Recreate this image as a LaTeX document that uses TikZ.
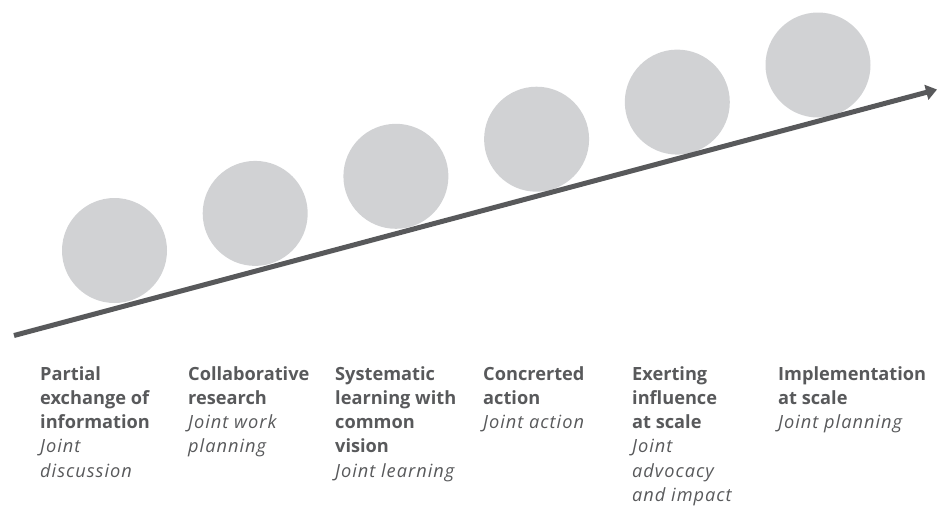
\documentclass[tikz,border=0pt]{standalone}
\usepackage{fontspec}
\setmainfont{Open Sans}[ItalicFeatures={LetterSpace=5.5}]
\usetikzlibrary{arrows.meta}
\definecolor{txt}{HTML}{58595B}
\definecolor{ball}{HTML}{D1D2D4}
\tikzset{
  ballnode/.style={circle, fill=ball, draw=none, minimum size=105pt, inner sep=0pt},
  label/.style={anchor=north west, inner sep=0pt, align=left, text=txt,
    font=\fontsize{18.2}{24.2}\selectfont},
  axis/.style={draw=txt, line width=5pt, -{Triangle[length=11pt,width=15pt]}}
}
\begin{document}
\begin{tikzpicture}[x=1pt,y=-1pt]
\useasboundingbox (0,0) rectangle (937,507);
\node[ballnode] (b1) at (114.5,250.5) {};
\node[ballnode] (b2) at (255.2,213.4) {};
\node[ballnode] (b3) at (395.9,176.3) {};
\node[ballnode] (b4) at (536.6,139.2) {};
\node[ballnode] (b5) at (677.3,102.1) {};
\node[ballnode] (b6) at (818,65) {};
\coordinate (s) at (14,335.5);
\coordinate (e) at (937,89.5);
\draw[axis] (s) -- (e);
\node[label] (t1) at (40,363.1) {\strut\textbf{Partial}\\\textbf{exchange of}\\\textbf{information}\\\textit{Joint}\\\textit{discussion}};
\node[label] (t2) at (188,363.1) {\strut\textbf{Collaborative}\\\textbf{research}\\\textit{Joint work}\\\textit{planning}};
\node[label] (t3) at (335,363.1) {\strut\textbf{Systematic}\\\textbf{learning with}\\\textbf{common}\\\textbf{vision}\\\textit{Joint learning}};
\node[label] (t4) at (483,363.1) {\strut\textbf{Concrerted}\\\textbf{action}\\\textit{Joint action}};
\node[label] (t5) at (632,363.1) {\strut\textbf{Exerting}\\\textbf{influence}\\\textbf{at scale}\\\textit{Joint}\\\textit{advocacy}\\\textit{and impact}};
\node[label] (t6) at (778,363.1) {\strut\textbf{Implementation}\\\textbf{at scale}\\\textit{Joint planning}};
\end{tikzpicture}
\end{document}
